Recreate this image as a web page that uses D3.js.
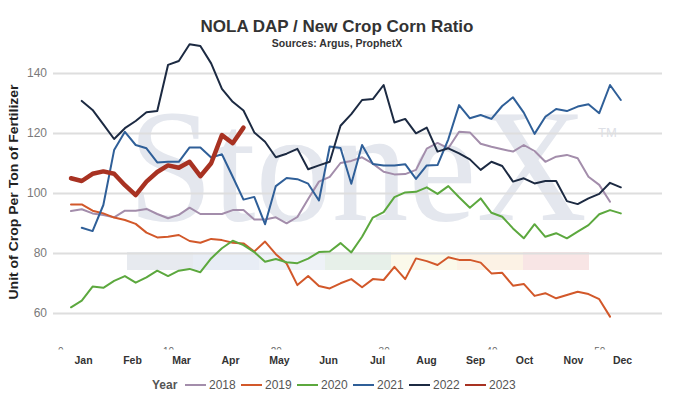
<!DOCTYPE html>
<html>
<head>
<meta charset="utf-8">
<script src="https://cdn.jsdelivr.net/npm/d3@7"></script>
<style>
  body { margin: 0; background: #fff; }
  svg { display: block; font-family: "Liberation Sans", Arial, sans-serif; }
</style>
</head>
<body>
<div id="chart"></div>
<script>
// weekly ratio, week 1..52 (null = no value)
const weeks = d3.range(1, 53);
const months = ["Jan", "Feb", "Mar", "Apr", "May", "Jun", "Jul", "Aug", "Sep", "Oct", "Nov", "Dec"];
const yTicks = [60, 80, 100, 120, 140];
const weekTicks = [0, 10, 20, 30, 40, 50];
const years = ["2018", "2019", "2020", "2021", "2022", "2023"];

const y2018 = [94.0, 94.6, 93.2, 92.7, 91.9, 94.1, 94.1, 94.7, 93.0, 91.6,
  92.7, 95.1, 93.0, 93.0, 93.0, 94.3, 94.3, 91.2, 91.2, 91.9,
  89.9, 92.0, 98.0, 103.8, 105.4, 110.0, 110.7, 111.9, 109.8, 107.1,
  106.2, 106.3, 107.7, 114.8, 116.7, 114.9, 120.4, 120.2, 116.4, 115.4,
  114.6, 113.8, 116.0, 114.0, 110.4, 112.1, 112.7, 111.6, 105.4, 102.7,
  97.1];
const y2019 = [96.2, 96.2, 94.1, 93.2, 91.8, 91.0, 89.7, 86.8, 85.2, 85.4,
  86.0, 84.0, 83.4, 84.7, 84.3, 83.4, 83.2, 80.5, 83.8, 79.6,
  76.5, 69.3, 72.3, 69.0, 68.2, 69.9, 71.3, 68.6, 71.3, 71.0,
  75.4, 71.3, 78.2, 77.3, 76.0, 78.6, 77.7, 77.7, 76.8, 73.2,
  73.4, 69.1, 69.7, 65.7, 66.6, 64.9, 66.0, 67.1, 66.3, 64.6,
  58.8];
const y2020 = [61.9, 64.1, 68.8, 68.4, 70.7, 72.3, 70.1, 71.9, 74.1, 72.3,
  74.1, 74.7, 73.6, 78.2, 81.6, 84.1, 82.6, 80.3, 77.1, 78.0,
  76.9, 76.6, 78.1, 80.3, 80.5, 83.3, 80.2, 85.4, 91.8, 93.6,
  98.6, 100.2, 100.4, 101.9, 99.7, 102.3, 98.6, 95.1, 98.2, 93.4,
  92.1, 88.2, 84.9, 89.6, 85.4, 86.6, 84.9, 87.1, 89.3, 92.9,
  94.3, 93.2];
const y2021 = [null, 88.4, 87.3, 96.0, 114.3, 120.4, 116.0, 114.9, 110.2, 110.4,
  110.4, 115.2, 115.2, 111.8, 112.9, 105.4, 97.8, 98.7, 89.6, 102.3,
  105.0, 104.6, 103.1, 97.5, 115.5, 115.0, 103.1, 116.0, 109.7, 109.2,
  109.2, 109.6, 104.7, 109.2, 109.3, 117.9, 129.3, 124.9, 126.0, 124.7,
  129.0, 131.9, 126.8, 119.7, 125.4, 128.0, 127.3, 128.8, 129.6, 126.6,
  136.0, 131.0];
const y2022 = [null, 130.7, 127.7, 122.9, 118.0, 121.6, 124.0, 126.9, 127.3, 142.7,
  144.0, 149.6, 149.0, 143.2, 134.7, 130.4, 127.5, 120.2, 117.1, 111.9,
  113.1, 114.7, 107.9, 109.2, 110.4, 122.4, 126.3, 131.0, 131.3, 136.0,
  123.5, 124.7, 119.9, 121.8, 113.8, 114.9, 113.2, 111.2, 107.7, 110.4,
  109.0, 103.8, 104.9, 103.2, 104.0, 104.0, 97.3, 96.3, 98.2, 99.7,
  103.4, 101.9];
const y2023 = [104.9, 104.0, 106.4, 107.2, 106.4, 102.6, 99.3, 103.8, 107.0, 109.2,
  108.4, 110.4, 105.6, 109.9, 119.3, 116.6, 121.8];

const seriesValues = [y2018, y2019, y2020, y2021, y2022, y2023];
const colors = ["#a38dab", "#d2582a", "#5ca83e", "#2f5f98", "#1c2a42", "#a83222"];
const widths = [2, 2, 2, 2, 2, 4.5];

const W = 681, H = 403;
const svg = d3.select("#chart").append("svg")
  .attr("width", W).attr("height", H);

const x = d3.scaleLinear().domain([1, 52]).range([71, 620.8]);
const y = d3.scaleLinear().domain([60, 140]).range([313, 73]);
const xMonth = d3.scalePoint().domain(months).range([83, 622]);

// watermark
const wm = svg.append("g");
wm.append("text")
  .attr("x", 128).attr("y", 220)
  .attr("textLength", 459).attr("lengthAdjust", "spacingAndGlyphs")
  .style("font-family", "'Liberation Serif', 'Times New Roman', serif")
  .style("font-size", "162px")
  .attr("fill", "#e4e7ee")
  .text("StoneX");
wm.append("text")
  .attr("x", 598).attr("y", 137)
  .style("font-size", "13px")
  .attr("fill", "#dde0e6")
  .text("TM");
const bandColors = ["#e7eaef", "#e8edf5", "#eef2f7", "#e7f0e9", "#fbf9ea", "#fcf2e5", "#f8e5e5"];
wm.selectAll("rect").data(bandColors).join("rect")
  .attr("x", (d, i) => 127 + i * 66)
  .attr("y", 252)
  .attr("width", 66).attr("height", 18)
  .attr("fill", d => d);

// grid + y axis
const yAxis = svg.append("g")
  .attr("transform", "translate(53,0)")
  .call(d3.axisLeft(y).tickValues(yTicks).tickSize(-609).tickPadding(6));
yAxis.select(".domain").remove();
yAxis.selectAll(".tick line").attr("stroke", "#dedede").attr("stroke-width", 2);
yAxis.selectAll(".tick text")
  .attr("fill", "#7a7a7a")
  .style("font-size", "12px")
  .style("font-family", "'Liberation Sans', Arial, sans-serif");

// week axis, labels clipped so only their tops show
svg.append("clipPath").attr("id", "wclip")
  .append("rect").attr("x", -700).attr("y", -5).attr("width", 2000).attr("height", 6.5);
const xAxis = svg.append("g")
  .attr("clip-path", "url(#wclip)")
  .attr("transform", "translate(0,348)")
  .call(d3.axisBottom(d3.scaleLinear().domain([0, 52]).range([x(0), x(52)]))
    .tickValues(weekTicks).tickSize(0).tickPadding(0));
xAxis.select(".domain").remove();
xAxis.selectAll(".tick text")
  .attr("fill", "#666")
  .style("font-size", "10px")
  .style("font-family", "'Liberation Sans', Arial, sans-serif");

// month labels
const mAxis = svg.append("g")
  .attr("transform", "translate(0,357)")
  .call(d3.axisBottom(xMonth).tickSize(0).tickPadding(0));
mAxis.select(".domain").remove();
mAxis.selectAll(".tick text")
  .attr("fill", "#333")
  .style("font-size", "10.5px")
  .style("font-weight", "bold")
  .style("font-family", "'Liberation Sans', Arial, sans-serif");

// lines
const line = d3.line()
  .defined(d => d != null)
  .x((d, i) => x(weeks[i]))
  .y(d => y(d));

svg.append("g").selectAll("path")
  .data(seriesValues)
  .join("path")
  .attr("fill", "none")
  .attr("stroke", (d, i) => colors[i])
  .attr("stroke-width", (d, i) => widths[i])
  .attr("stroke-linejoin", "round")
  .attr("stroke-linecap", "round")
  .attr("d", line);

// titles
svg.append("text")
  .attr("x", 337).attr("y", 32)
  .attr("text-anchor", "middle")
  .attr("fill", "#333")
  .style("font-size", "17px").style("font-weight", "bold")
  .text("NOLA DAP / New Crop Corn Ratio");
svg.append("text")
  .attr("x", 337).attr("y", 47)
  .attr("text-anchor", "middle")
  .attr("fill", "#333")
  .style("font-size", "10.5px").style("font-weight", "bold")
  .text("Sources: Argus, ProphetX");
svg.append("text")
  .attr("transform", "translate(18,192) rotate(-90)")
  .attr("text-anchor", "middle")
  .attr("fill", "#222")
  .attr("textLength", 215).attr("lengthAdjust", "spacingAndGlyphs")
  .style("font-size", "13px").style("font-weight", "bold")
  .text("Unit of Crop Per Ton of Fertilizer");

// legend
const legend = svg.append("g").attr("transform", "translate(0,389)");
legend.append("text")
  .attr("x", 152).attr("y", 0)
  .attr("fill", "#555")
  .style("font-size", "12px").style("font-weight", "bold")
  .text("Year");
const item = legend.selectAll(".item").data(years).join("g")
  .attr("class", "item")
  .attr("transform", (d, i) => `translate(${185 + i * 56},0)`);
item.append("line")
  .attr("x1", 0).attr("x2", 21).attr("y1", -4).attr("y2", -4)
  .attr("stroke", (d, i) => colors[i]).attr("stroke-width", 2);
item.append("text")
  .attr("x", 24).attr("y", 0)
  .attr("fill", "#555")
  .style("font-size", "12px")
  .text(d => d);
</script>
</body>
</html>
